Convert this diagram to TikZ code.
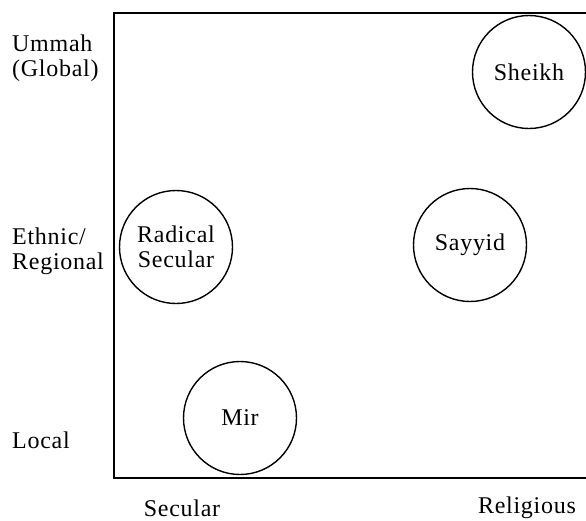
\documentclass[tikz,border=0pt]{standalone}
\usepackage{fontspec}
\setmainfont{Liberation Serif}[LetterSpace=3]
\begin{document}
\begin{tikzpicture}[x=1pt,y=-1pt,
  frame/.style={line width=2.3pt},
  actor/.style={circle,draw,line width=1.4pt,minimum size=113pt,inner sep=0pt,align=center},
  axislabel/.style={inner sep=0pt,align=left,anchor=west},
  font=\fontsize{24}{25}\selectfont]
\useasboundingbox (0,0) rectangle (586,520);

% open frame: top, left and bottom sides
\coordinate (tr) at (590,13);
\coordinate (tl) at (114,13);
\coordinate (bl) at (114,478);
\coordinate (br) at (590,478);
\draw[frame] (tr) -- (tl) -- (bl) -- (br);

% actors placed by outlook and scope
\node[actor] (sheikh) at (529,72)  {Sheikh};
\node[actor] (sayyid) at (470,245) {Sayyid};
\node[actor] (radical) at (176,247) {Radical\\Secular};
\node[actor] (mir) at (240,418) {Mir};

% scope axis
\node[axislabel] (ummah) at (12,58) {Ummah\\(Global)};
\node[axislabel] (ethnic) at (12,251) {Ethnic/\\Regional};
\node[axislabel] (local) at (12,440) {Local};

% outlook axis
\node[inner sep=0pt] (secular) at (182,508) {Secular};
\node[inner sep=0pt] (religious) at (527,508) {Religious};
\end{tikzpicture}
\end{document}
